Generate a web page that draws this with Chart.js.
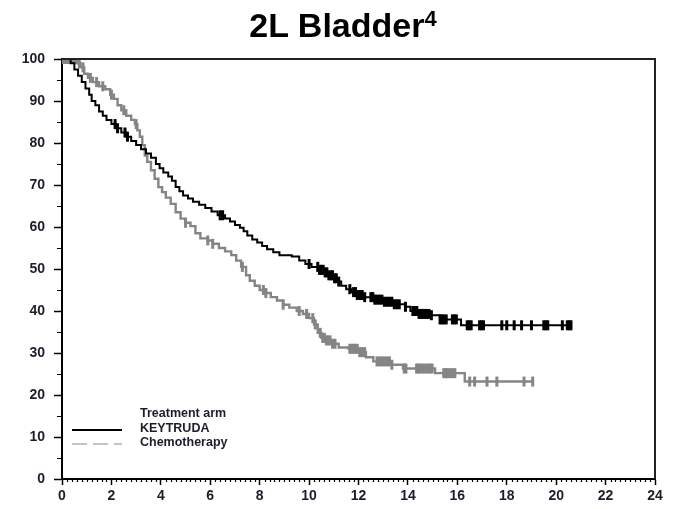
<!DOCTYPE html>
<html>
<head>
<meta charset="utf-8">
<script src="https://cdn.jsdelivr.net/npm/chart.js@4/dist/chart.umd.min.js"></script>
<style>
  html, body { margin: 0; padding: 0; background: #fff; }
  #wrap { position: relative; width: 673px; height: 509px; }
  #title {
    position: absolute; left: 0; top: 8px; width: 686px; text-align: center;
    font: bold 34px "Liberation Sans", Arial, sans-serif; line-height: 34px; color: #000;
  }
  #title sup { font-size: 22px; vertical-align: 11px; line-height: 0; }
  canvas { position: absolute; left: 0; top: 0; }
</style>
</head>
<body>
<div id="wrap">
  <canvas id="chart" width="673" height="509"></canvas>
  <div id="title">2L Bladder<sup>4</sup></div>
</div>
<script>
// KEYTRUDA arm, survival (%) after each step
const kTime = [0, 0.35, 0.5, 0.65, 0.8, 0.95, 1.1, 1.2, 1.35, 1.5, 1.65, 1.8, 2.0, 2.2, 2.4, 2.6, 2.8, 3.0, 3.2, 3.4, 3.6, 3.8, 3.95, 4.1, 4.3, 4.45, 4.6, 4.75, 4.9, 5.1, 5.3, 5.55, 5.8, 6.05, 6.3, 6.6, 6.8, 7.0, 7.2, 7.35, 7.5, 7.7, 7.9, 8.1, 8.3, 8.55, 8.8, 9.3, 9.6, 9.85, 10.1, 10.4, 10.6, 10.8, 11.0, 11.15, 11.3, 11.5, 11.7, 11.9, 12.2, 12.6, 13.0, 13.4, 13.9, 14.1, 14.4, 14.9, 15.3, 16.15, 20.6];
const kSurv = [100, 99, 97.5, 96, 94.5, 93, 91.5, 90, 89, 87.5, 86.5, 85.5, 84.5, 83.5, 82.5, 81.5, 80.5, 79.5, 78.5, 77.5, 76.5, 75, 74, 73, 72, 71, 69.5, 68.5, 67.5, 66.8, 66, 65.3, 64.5, 63.7, 62.8, 62, 61.3, 60.5, 59.8, 59, 58, 57, 56.3, 55.5, 54.7, 54, 53.3, 53, 52, 51.2, 50.5, 49.8, 49.2, 48.5, 47.8, 47, 46, 45.2, 44.5, 43.8, 43.3, 42.7, 42.2, 41.6, 41, 40, 39.3, 39, 38, 36.6, 36.6];
const kCensor = [2.15, 2.25, 2.55, 2.65, 6.4, 6.5, 10.0, 10.35, 10.42, 10.5, 10.57, 10.65, 10.72, 10.8, 10.88, 10.95, 11.03, 11.1, 11.2, 11.65, 11.8, 11.88, 11.95, 12.05, 12.15, 12.25, 12.5, 12.58, 12.66, 12.75, 12.85, 12.95, 13.05, 13.15, 13.25, 13.35, 13.45, 13.55, 13.65, 13.9, 14.2, 14.28, 14.36, 14.45, 14.55, 14.65, 14.75, 14.85, 14.95, 15.3, 15.38, 15.46, 15.55, 15.8, 15.88, 15.96, 16.4, 16.48, 16.56, 16.9, 16.98, 17.06, 17.8, 18.0, 18.3, 18.6, 19.0, 19.5, 19.58, 19.66, 20.25, 20.45, 20.53, 20.6];

// Chemotherapy arm
const cTime = [0, 0.6, 0.75, 0.9, 1.05, 1.25, 1.5, 1.75, 1.95, 2.1, 2.25, 2.4, 2.6, 2.8, 2.95, 3.05, 3.15, 3.25, 3.35, 3.45, 3.6, 3.75, 3.9, 4.05, 4.2, 4.4, 4.6, 4.8, 5.0, 5.2, 5.4, 5.6, 5.9, 6.1, 6.35, 6.6, 6.85, 7.05, 7.25, 7.45, 7.6, 7.8, 8.0, 8.2, 8.45, 8.7, 8.95, 9.2, 9.5, 9.75, 10.0, 10.2, 10.35, 10.5, 10.7, 10.9, 11.2, 11.6, 12.0, 12.3, 12.6, 13.3, 13.8, 15.1, 16.3, 19.1];
const cSurv = [100, 99, 98, 96.5, 95.5, 94.5, 93.5, 92.8, 91.5, 90.5, 89, 87.8, 86.5, 85.5, 84.5, 83, 81.5, 79.5, 77, 75.5, 73.5, 71.5, 69.5, 68.3, 67, 65.5, 63.5, 62, 61, 60.2, 58.5, 57.3, 56.8, 56, 55, 54.2, 53.3, 52, 50.5, 48.5, 47.2, 46, 45, 44.3, 43.3, 42.5, 41.5, 40.8, 40, 39.3, 38.3, 36.8, 34.8, 33.6, 33, 32.2, 31.3, 31, 30.2, 29, 28, 27.2, 26.3, 25.2, 23.2, 23.2];
const cCensor = [0.04, 0.1, 0.16, 0.22, 0.28, 0.34, 0.4, 0.46, 0.52, 0.7, 0.85, 1.15, 1.4, 1.65, 2.0, 2.5, 3.0, 5.0, 5.9, 6.1, 7.3, 8.15, 8.25, 8.95, 9.6, 9.9, 10.15, 10.25, 10.45, 10.55, 10.62, 10.7, 10.78, 10.85, 10.95, 11.05, 11.65, 11.72, 11.8, 11.88, 11.95, 12.05, 12.15, 12.25, 12.75, 12.85, 12.95, 13.05, 13.15, 13.25, 13.35, 13.85, 13.92, 14.35, 14.42, 14.5, 14.6, 14.7, 14.8, 14.9, 14.98, 15.45, 15.52, 15.6, 15.7, 15.8, 15.9, 16.5, 16.7, 17.2, 17.6, 18.7, 19.05];

const xTickValues = [0, 2, 4, 6, 8, 10, 12, 14, 16, 18, 20, 22, 24];
const yTickValues = [0, 10, 20, 30, 40, 50, 60, 70, 80, 90, 100];
const legendTitle = "Treatment arm";
const seriesNames = ["KEYTRUDA", "Chemotherapy"];

const INK = "#1b1d2c";
const GRAY = "#858585";

function survAt(times, surv, t) {
  let s = surv[0];
  for (let i = 0; i < times.length; i++) {
    if (times[i] <= t) s = surv[i];
  }
  return s;
}

const toPts = (times, surv) => times.map((t, i) => ({ x: t, y: surv[i] }));
const censorPts = (cens, times, surv) => cens.map(t => ({ x: t, y: survAt(times, surv, t) }));

// minor ticks, frame and in-plot legend
const extras = {
  id: "extras",
  afterDraw(chart) {
    const { ctx, chartArea: a, scales } = chart;
    ctx.save();
    ctx.strokeStyle = "#000";
    ctx.lineWidth = 1.2;
    ctx.beginPath();
    for (let v = 5; v < 100; v += 10) {
      const y = Math.round(scales.y.getPixelForValue(v)) + 0.5;
      ctx.moveTo(a.left - 5, y);
      ctx.lineTo(a.left, y);
    }
    for (let i = 1; i < 120; i++) {
      if (i % 10 === 0) continue;
      const x = Math.round(scales.x.getPixelForValue(i * 0.2)) + 0.5;
      ctx.moveTo(x, a.bottom);
      ctx.lineTo(x, a.bottom + 3);
    }
    ctx.stroke();

    ctx.lineWidth = 2;
    ctx.strokeStyle = "#222";
    ctx.beginPath();
    ctx.moveTo(a.left, a.top);
    ctx.lineTo(a.right, a.top);
    ctx.lineTo(a.right, a.bottom);
    ctx.stroke();

    // legend
    const lx = a.left + 10;
    const tx = a.left + 78;
    const y0 = a.bottom - 65;
    ctx.font = "bold 12.5px 'Liberation Sans', Arial, sans-serif";
    ctx.fillStyle = INK;
    ctx.textBaseline = "middle";
    ctx.fillText(legendTitle, tx, y0);
    ctx.fillText(seriesNames[0], tx, y0 + 15);
    ctx.fillText(seriesNames[1], tx, y0 + 29);
    ctx.lineWidth = 2;
    ctx.strokeStyle = "#000";
    ctx.beginPath();
    ctx.moveTo(lx, y0 + 16);
    ctx.lineTo(lx + 50, y0 + 16);
    ctx.stroke();
    ctx.strokeStyle = "#c4c4c4";
    ctx.setLineDash([15, 6]);
    ctx.beginPath();
    ctx.moveTo(lx, y0 + 30);
    ctx.lineTo(lx + 50, y0 + 30);
    ctx.stroke();
    ctx.restore();
  }
};

const tickFont = { family: "'Liberation Sans', Arial, sans-serif", size: 14, weight: "bold" };

new Chart(document.getElementById("chart"), {
  type: "scatter",
  data: {
    datasets: [
      {
        label: seriesNames[0],
        data: toPts(kTime, kSurv),
        showLine: true,
        stepped: true,
        borderColor: "#000",
        borderWidth: 2,
        pointRadius: 0
      },
      {
        label: seriesNames[0] + " censored",
        data: censorPts(kCensor, kTime, kSurv),
        showLine: false,
        pointStyle: "line",
        rotation: 90,
        pointRadius: 5,
        borderColor: "#000",
        borderWidth: 3
      },
      {
        label: seriesNames[1],
        data: toPts(cTime, cSurv),
        showLine: true,
        stepped: true,
        borderColor: GRAY,
        borderWidth: 2.4,
        pointRadius: 0
      },
      {
        label: seriesNames[1] + " censored",
        data: censorPts(cCensor, cTime, cSurv),
        showLine: false,
        pointStyle: "line",
        rotation: 90,
        pointRadius: 5,
        borderColor: GRAY,
        borderWidth: 3
      }
    ]
  },
  options: {
    responsive: false,
    animation: false,
    layout: { padding: { top: 59, right: 18, left: 0, bottom: 0 } },
    plugins: { legend: { display: false }, tooltip: { enabled: false } },
    scales: {
      x: {
        type: "linear",
        min: 0,
        max: 24,
        afterBuildTicks: s => { s.ticks = xTickValues.map(v => ({ value: v })); },
        afterFit: s => { s.height = 30; },
        ticks: { color: INK, font: tickFont, padding: 3, maxRotation: 0 },
        grid: { drawOnChartArea: false, drawTicks: true, tickLength: 6, tickColor: "#000", tickWidth: 1.5 },
        border: { display: true, color: "#000", width: 2 }
      },
      y: {
        min: 0,
        max: 100,
        afterBuildTicks: s => { s.ticks = yTickValues.map(v => ({ value: v })); },
        afterFit: s => { s.width = 62; },
        ticks: { color: INK, font: tickFont, padding: 9 },
        grid: { drawOnChartArea: false, drawTicks: true, tickLength: 8, tickColor: "#000", tickWidth: 1.5 },
        border: { display: true, color: "#000", width: 2 }
      }
    }
  },
  plugins: [extras]
});
</script>
</body>
</html>
